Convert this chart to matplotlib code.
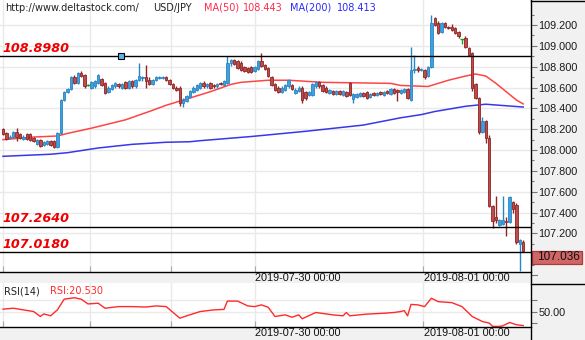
import matplotlib
matplotlib.use('Agg')
import matplotlib.pyplot as plt
from matplotlib.patches import Rectangle
from matplotlib.lines import Line2D
import numpy as np

plt.rcParams['font.family'] = 'DejaVu Sans'

W, H = 585, 340

# USD/JPY candles (open, high, low, close)
opens = [108.20, 108.16, 108.12, 108.13, 108.17, 108.15, 108.11, 108.15, 108.15, 108.12,
         108.06, 108.10, 108.05, 108.06, 108.09, 108.09, 108.03, 108.16, 108.48, 108.56,
         108.59, 108.70, 108.64, 108.74, 108.72, 108.62, 108.60, 108.61, 108.64, 108.68,
         108.64, 108.56, 108.59, 108.61, 108.63, 108.60, 108.65, 108.60, 108.66, 108.61,
         108.67, 108.69, 108.70, 108.67, 108.63, 108.67, 108.69, 108.69, 108.70, 108.67,
         108.63, 108.60, 108.60, 108.45, 108.47, 108.51, 108.56, 108.58, 108.60, 108.64,
         108.61, 108.64, 108.62, 108.61, 108.64, 108.62, 108.64, 108.84, 108.86, 108.85,
         108.84, 108.80, 108.79, 108.80, 108.76, 108.78, 108.85, 108.82, 108.79, 108.70,
         108.63, 108.60, 108.56, 108.58, 108.61, 108.62, 108.55, 108.57, 108.60, 108.56,
         108.53, 108.53, 108.61, 108.65, 108.62, 108.60, 108.55, 108.57, 108.54, 108.57,
         108.53, 108.56, 108.64, 108.49, 108.51, 108.52, 108.55, 108.56, 108.51, 108.55,
         108.53, 108.56, 108.53, 108.57, 108.54, 108.59, 108.58, 108.55, 108.56, 108.59,
         108.48, 108.77, 108.79, 108.77, 108.77, 108.71, 108.80, 109.27, 109.22, 109.13,
         109.22, 109.18, 109.18, 109.17, 109.13, 109.07, 109.08, 108.98, 108.93, 108.63,
         108.50, 108.17, 108.28, 108.12, 107.46, 107.36, 107.28, 107.29, 107.32, 107.31,
         107.50, 107.47, 107.10, 107.12]
highs = [108.21, 108.17, 108.14, 108.18, 108.21, 108.16, 108.14, 108.16, 108.16, 108.13,
         108.11, 108.11, 108.09, 108.10, 108.10, 108.10, 108.17, 108.49, 108.57, 108.60,
         108.71, 108.72, 108.75, 108.76, 108.73, 108.63, 108.66, 108.67, 108.73, 108.69,
         108.65, 108.61, 108.63, 108.65, 108.64, 108.64, 108.66, 108.67, 108.67, 108.68,
         108.84, 108.71, 108.82, 108.70, 108.68, 108.71, 108.71, 108.71, 108.71, 108.68,
         108.64, 108.61, 108.61, 108.50, 108.53, 108.58, 108.61, 108.63, 108.65, 108.66,
         108.64, 108.65, 108.63, 108.64, 108.65, 108.67, 108.90, 108.87, 108.87, 108.86,
         108.85, 108.81, 108.80, 108.81, 108.81, 108.86, 108.93, 108.83, 108.80, 108.71,
         108.64, 108.61, 108.61, 108.63, 108.68, 108.63, 108.60, 108.61, 108.61, 108.57,
         108.57, 108.64, 108.66, 108.66, 108.63, 108.61, 108.59, 108.58, 108.58, 108.58,
         108.58, 108.57, 108.65, 108.55, 108.55, 108.56, 108.56, 108.57, 108.55, 108.56,
         108.56, 108.57, 108.57, 108.58, 108.60, 108.60, 108.59, 108.59, 108.60, 108.60,
         108.99, 108.91, 108.81, 108.79, 108.78, 108.81, 109.30, 109.28, 109.24, 109.23,
         109.23, 109.19, 109.21, 109.18, 109.14, 109.07, 109.09, 108.99, 108.94, 108.64,
         108.51, 108.32, 108.29, 108.14, 107.47, 107.56, 107.34, 107.56, 107.36, 107.56,
         107.51, 107.49, 107.15, 107.14]
lows = [108.14, 108.10, 108.11, 108.12, 108.09, 108.11, 108.10, 108.10, 108.09, 108.08,
        108.05, 108.03, 108.04, 108.05, 108.04, 108.02, 108.02, 108.15, 108.47, 108.55,
        108.58, 108.63, 108.63, 108.70, 108.60, 108.61, 108.59, 108.60, 108.63, 108.61,
        108.54, 108.55, 108.58, 108.60, 108.60, 108.59, 108.59, 108.59, 108.60, 108.60,
        108.66, 108.66, 108.60, 108.62, 108.62, 108.66, 108.68, 108.68, 108.66, 108.62,
        108.59, 108.57, 108.42, 108.41, 108.46, 108.50, 108.55, 108.57, 108.59, 108.60,
        108.60, 108.59, 108.60, 108.60, 108.62, 108.61, 108.63, 108.81, 108.82, 108.78,
        108.76, 108.75, 108.74, 108.74, 108.75, 108.77, 108.80, 108.77, 108.70, 108.61,
        108.57, 108.55, 108.55, 108.57, 108.60, 108.58, 108.54, 108.56, 108.45, 108.48,
        108.52, 108.52, 108.60, 108.60, 108.56, 108.55, 108.54, 108.53, 108.53, 108.53,
        108.52, 108.51, 108.52, 108.45, 108.50, 108.51, 108.51, 108.49, 108.50, 108.52,
        108.52, 108.53, 108.52, 108.54, 108.53, 108.54, 108.47, 108.54, 108.55, 108.49,
        108.47, 108.74, 108.75, 108.76, 108.68, 108.70, 108.79, 109.19, 109.11, 109.12,
        109.17, 109.16, 109.14, 109.11, 109.08, 109.02, 108.98, 108.90, 108.57, 108.49,
        108.15, 108.16, 108.07, 107.45, 107.25, 107.30, 107.27, 107.28, 107.18, 107.30,
        107.40, 107.10, 106.84, 107.03]
closes = [108.15, 108.11, 108.13, 108.17, 108.13, 108.12, 108.13, 108.11, 108.10, 108.09,
          108.10, 108.04, 108.08, 108.09, 108.05, 108.03, 108.16, 108.48, 108.56, 108.59,
          108.70, 108.64, 108.74, 108.71, 108.61, 108.62, 108.65, 108.66, 108.72, 108.62,
          108.55, 108.60, 108.62, 108.64, 108.61, 108.63, 108.60, 108.66, 108.61, 108.67,
          108.71, 108.70, 108.66, 108.63, 108.67, 108.70, 108.70, 108.70, 108.67, 108.63,
          108.60, 108.58, 108.45, 108.48, 108.52, 108.57, 108.60, 108.62, 108.64, 108.61,
          108.63, 108.60, 108.61, 108.63, 108.63, 108.66, 108.84, 108.86, 108.83, 108.79,
          108.77, 108.76, 108.75, 108.75, 108.80, 108.85, 108.81, 108.78, 108.71, 108.62,
          108.58, 108.56, 108.60, 108.62, 108.67, 108.59, 108.58, 108.60, 108.48, 108.50,
          108.56, 108.63, 108.65, 108.61, 108.57, 108.56, 108.58, 108.54, 108.57, 108.54,
          108.57, 108.52, 108.53, 108.54, 108.54, 108.55, 108.52, 108.50, 108.54, 108.53,
          108.55, 108.54, 108.56, 108.55, 108.59, 108.55, 108.56, 108.58, 108.59, 108.50,
          108.77, 108.78, 108.77, 108.78, 108.70, 108.80, 109.22, 109.20, 109.12, 109.22,
          109.18, 109.17, 109.15, 109.12, 109.09, 109.07, 108.99, 108.91, 108.60, 108.50,
          108.17, 108.28, 108.12, 107.46, 107.32, 107.33, 107.33, 107.33, 107.31, 107.55,
          107.43, 107.12, 107.14, 107.036]

# moving averages, read at a few bars
ma50_idx = [0, 9, 16, 19, 26, 36, 43, 48, 53, 58, 61, 67, 70, 78, 84, 94, 104, 114,
            117, 125, 131, 136, 139, 142, 145, 148, 151, 153]
ma50_val = [108.10, 108.125, 108.135, 108.16, 108.21, 108.29, 108.37, 108.43, 108.48,
            108.53, 108.56, 108.63, 108.65, 108.67, 108.67, 108.65, 108.645, 108.64,
            108.62, 108.61, 108.67, 108.71, 108.73, 108.71, 108.64, 108.56, 108.48, 108.443]
ma200_idx = [0, 14, 19, 28, 38, 48, 55, 58, 73, 89, 106, 117, 123, 127, 136, 142, 146, 153]
ma200_val = [107.94, 107.96, 107.975, 108.02, 108.055, 108.075, 108.08, 108.09, 108.13,
             108.18, 108.24, 108.31, 108.34, 108.37, 108.42, 108.44, 108.43, 108.413]

# RSI(14)
rsi_idx = [0, 3, 6, 9, 11, 12, 14, 16, 18, 21, 23, 25, 28, 30, 34, 38, 42, 45, 48, 52,
           54, 58, 62, 65, 66, 69, 72, 74, 76, 78, 80, 83, 85, 87, 88, 92, 97, 100, 101,
           102, 107, 112, 115, 117, 118, 119, 120, 122, 124, 126, 128, 132, 135, 138,
           141, 143, 144, 146, 147, 149, 151, 153]
rsi_val = [55, 57, 53.5, 50, 39.6, 45, 41, 53.5, 76, 79, 76, 66, 67.5, 57, 60.4, 60.4,
           59.5, 61.8, 60.4, 36, 41, 50, 53.5, 54.5, 72, 72, 61.8, 60.4, 64, 59, 39.6, 43,
           38, 43, 34.8, 48, 43, 41, 48, 41, 44.6, 46.4, 48, 50, 52, 41, 65, 64, 60.4, 78,
           70.8, 68.7, 60.4, 39.6, 29, 25.8, 18.8, 18.8, 20, 27, 22.3, 20.53]

levels = [108.898, 107.264, 107.018]
level_labels = ['108.8980', '107.2640', '107.0180']
marker_bar = 34.7

day_grid = [0, 25.5, 49.5, 74, 123.5]
date_pos = [74, 123.5]
date_labels = ['2019-07-30 00:00', '2019-08-01 00:00']

price_ticks = [107.2, 107.4, 107.6, 107.8, 108.0, 108.2, 108.4, 108.6, 108.8, 109.0, 109.2]
price_minor = [106.9, 107.1, 107.3, 107.5, 107.7, 107.9, 108.1, 108.3, 108.5, 108.7,
               108.9, 109.1, 109.3]
rsi_ticks = [25, 50, 75]
rsi_tick_labels = ['', '50.00', '']

ma50_last, ma200_last, rsi_last = 108.443, 108.413, 20.530

UP, UP_EDGE = '#3ea1dd', '#2a85c4'
DN, DN_EDGE = '#bf4b4b', '#8e2626'
GRID = '#e9e9e9'
STRIP = '#f1f1f1'
TFAM, TSIZE = 'Liberation Sans', 7.8


def fy(py):
    return 1 - py / H


fig = plt.figure(figsize=(W / 100, H / 100), dpi=100)
ax = fig.add_axes([0, fy(272), 531 / W, 272 / H])
rx = fig.add_axes([0, fy(327), 531 / W, 44 / H])

# grey date strips and grey price-scale column
for top, bot in [(272, 283), (327, 340)]:
    fig.add_artist(Rectangle((0, fy(bot)), 531 / W, (bot - top) / H,
                             transform=fig.transFigure, color=STRIP, zorder=0))
fig.add_artist(Rectangle((531 / W, 0), 54 / W, 1, transform=fig.transFigure,
                         color=STRIP, zorder=0))

x = np.arange(len(opens))
o, hi, lo, c = map(np.array, (opens, highs, lows, closes))
up, dn, eq = c > o, c < o, np.isclose(c, o)
body_lo = np.minimum(o, c)
body_h = np.maximum(np.abs(c - o), 0.008)

ax.vlines(x[up], lo[up], hi[up], color=UP_EDGE, lw=1, zorder=3)
ax.bar(x[up], body_h[up], bottom=body_lo[up], width=0.72, color=UP,
       edgecolor=UP_EDGE, lw=0.6, zorder=4)
ax.vlines(x[dn], lo[dn], hi[dn], color=DN_EDGE, lw=1, zorder=3)
ax.bar(x[dn], body_h[dn], bottom=body_lo[dn], width=0.72, color=DN,
       edgecolor=DN_EDGE, lw=0.6, zorder=4)
ax.vlines(x[eq], lo[eq], hi[eq], color='#1c9a1c', lw=1, zorder=3)
ax.hlines(o[eq], x[eq] - 0.45, x[eq] + 0.45, color='#1c9a1c', lw=1, zorder=3)

ax.plot(ma50_idx, ma50_val, color='#ff3030', lw=1.1, zorder=2, alpha=0.9)
ax.plot(ma200_idx, ma200_val, color='#2222e6', lw=1.1, zorder=2, alpha=0.9)

for lv, lab in zip(levels, level_labels):
    ax.axhline(lv, color='black', lw=1.0, zorder=5)
    ax.annotate(lab, xy=(0, lv), xycoords=('axes fraction', 'data'),
                xytext=(2, 3.2), textcoords='offset points', va='baseline',
                ha='left', color='#ee0000', fontsize=9.2, fontweight='bold',
                fontstyle='italic')
ax.plot([marker_bar], [levels[0]], 's', ms=4.5, mfc='#5ab6e8', mec='black',
        mew=0.8, zorder=6)

ax.set_xlim(-3 / 3.4, 528 / 3.4)
ax.set_ylim(106.83, 109.44)
rx.set_xlim(ax.get_xlim())
rx.set_ylim(17.5, 110)

for a in (ax, rx):
    a.set_xticks(day_grid)
    a.tick_params(axis='x', direction='in', length=4, color='#a8a8a8',
                  labelbottom=False)
    a.grid(True, color=GRID, lw=1)
    a.set_axisbelow(True)
    a.spines['top'].set_visible(False)
    a.spines['left'].set_visible(False)
    a.spines['right'].set_visible(False)
    a.spines['bottom'].set_linewidth(1.0)
    a.yaxis.set_ticks_position('right')
    a.tick_params(axis='y', which='both', direction='out', color='#777777',
                  width=0.8, pad=1, labelleft=False, labelright=True,
                  labelcolor='#1a1a1a')
    a.tick_params(axis='y', which='major', length=4.3)
    a.tick_params(axis='y', which='minor', length=2.2)

ax.set_yticks(price_ticks)
ax.set_yticklabels(['%.3f' % t for t in price_ticks], family=TFAM, fontsize=TSIZE)
ax.set_yticks(price_minor, minor=True)
# 106.800 tick sits just under the plot, in the date strip row
ax.plot([1, 1 + 6 / 531], [106.8, 106.8], transform=ax.get_yaxis_transform(),
        clip_on=False, color='#777777', lw=0.8)
rx.set_yticks(rsi_ticks)
rx.set_yticklabels(rsi_tick_labels, family=TFAM, fontsize=TSIZE)
rx.grid(False, axis='y')
for t in [50, 75]:
    rx.axhline(t, color=GRID, lw=1, zorder=0)

rx.plot(rsi_idx, rsi_val, color='#ff2a2a', lw=1.0)

# date labels in both strips
for a, off in [(ax, -4.0), (rx, -4.6)]:
    for pos, lab in zip(date_pos, date_labels):
        a.annotate(lab, xy=(pos, 0), xycoords=('data', 'axes fraction'),
                   xytext=(0.5, off), textcoords='offset points', ha='left',
                   va='center', family=TFAM, fontsize=TSIZE, color='#111111',
                   annotation_clip=False)

# last price box on the scale
box_h = 13.3 / 104.2
ax.add_patch(Rectangle((1 + 0.7 / 531, closes[-1] - box_h), 50 / 531, box_h,
                       transform=ax.get_yaxis_transform(), clip_on=False,
                       fc='#d16666', ec='#a83c3c', lw=0.9, zorder=6))
ax.text(1 + 27 / 531, closes[-1] - box_h / 2, '%.3f' % closes[-1],
        transform=ax.get_yaxis_transform(), ha='center', va='center',
        family=TFAM, fontsize=8.5, color='#111111', clip_on=False, zorder=7)

# frame lines of the right scale
fig.add_artist(Line2D([531 / W, 531 / W], [0, 1], transform=fig.transFigure,
                      color='black', lw=1.0))
fig.add_artist(Line2D([531 / W, 1], [fy(283.5), fy(283.5)], transform=fig.transFigure,
                      color='black', lw=1.0))
fig.add_artist(Line2D([531 / W, 1], [fy(0.5), fy(0.5)], transform=fig.transFigure,
                      color='black', lw=1.0))

# header
hdr = [(5, 'http://www.deltastock.com/', '#222222'),
       (153, 'USD/JPY', '#222222'),
       (204, 'MA(50)', '#ff2a4a'),
       (243, '%.3f' % ma50_last, '#ff2a4a'),
       (290, 'MA(200)', '#2a2aff'),
       (337, '%.3f' % ma200_last, '#2a2aff')]
for px, txt, col in hdr:
    fig.text(px / W, fy(8), txt, fontsize=7, color=col, va='center', ha='left')

fig.text(4 / W, fy(291), 'RSI(14)', fontsize=7, color='#222222', va='center')
fig.text(50 / W, fy(291), 'RSI:%.3f' % rsi_last, fontsize=7, color='#ff2a2a',
         va='center')

fig.savefig('out.png', dpi=100)
